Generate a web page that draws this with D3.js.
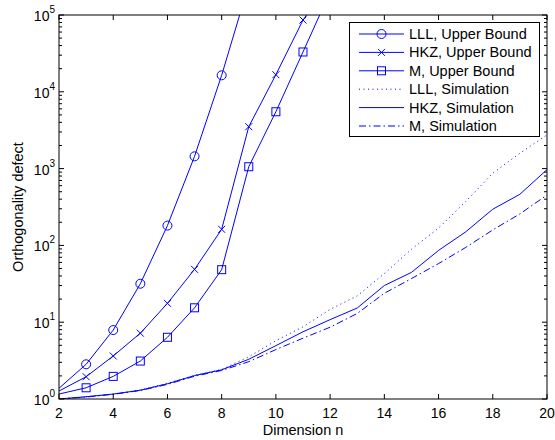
<!DOCTYPE html>
<html>
<head>
<meta charset="utf-8">
<script src="https://cdn.jsdelivr.net/npm/d3@7"></script>
<style>
body { margin: 0; background: #fff; }
svg { font-family: "Liberation Sans", Arial, sans-serif; }
</style>
</head>
<body>
<script>
// dimension values
var n_bound = [2, 3, 4, 5, 6, 7, 8, 9, 10, 11, 12];
var n_sim = [2, 3, 4, 5, 6, 7, 8, 9, 10, 11, 12, 13, 14, 15, 16, 17, 18, 19, 20];

// upper bounds (last values run off the top of the plot)
var lll_bound = [1.38, 2.83, 7.9, 31.7, 181, 1445, 16400, 250000];
var hkz_bound = [1.27, 1.95, 3.63, 7.2, 17.6, 48.8, 162, 3514, 16700, 86000, 270000];
var m_bound = [1.16, 1.40, 1.97, 3.12, 6.36, 15.4, 48.3, 1058, 5500, 33000, 200000];

// simulations
var lll_sim = [1.0, 1.07, 1.16, 1.31, 1.6, 2.03, 2.42, 3.55, 5.75, 8.7, 14.7, 22, 43, 89, 168, 372, 870, 1585, 2750];
var hkz_sim = [1.0, 1.07, 1.16, 1.3, 1.58, 2.02, 2.4, 3.29, 4.95, 7.5, 10.8, 15.3, 30, 44.5, 86, 150, 296, 463, 970];
var m_sim = [1.0, 1.06, 1.15, 1.29, 1.55, 1.98, 2.35, 3.06, 4.4, 6.2, 8.6, 13, 23.8, 37, 58, 94, 159, 257, 453];

var x_ticks = [2, 4, 6, 8, 10, 12, 14, 16, 18, 20];
var y_ticks = [0, 1, 2, 3, 4, 5];

var line_color = '#0000ff';
var font_size = "14.5px";

var plot_left = 59, plot_right = 547, plot_top = 15, plot_bottom = 399;

var svg = d3.select("body").append("svg")
	.attr("width", 555)
	.attr("height", 440);

var x = d3.scaleLinear().domain([2, 20]).range([plot_left, plot_right]);
var y = d3.scaleLog().domain([1, 1e5]).range([plot_bottom, plot_top]);

svg.append("clipPath").attr("id", "plot_clip")
	.append("rect")
	.attr("x", plot_left).attr("y", plot_top)
	.attr("width", plot_right - plot_left).attr("height", plot_bottom - plot_top);

var plot = svg.append("g").attr("clip-path", "url(#plot_clip)");

var line = d3.line()
	.x(function(d) { return x(d[0]); })
	.y(function(d) { return y(d[1]); });

function pairs(xs, ys) {
	return ys.map(function(v, i) { return [xs[i], v]; });
}

var series = [
	{name: 'LLL, Upper Bound', data: pairs(n_bound, lll_bound), marker: 'circle', dash: null},
	{name: 'HKZ, Upper Bound', data: pairs(n_bound, hkz_bound), marker: 'cross', dash: null},
	{name: 'M, Upper Bound', data: pairs(n_bound, m_bound), marker: 'square', dash: null},
	{name: 'LLL, Simulation', data: pairs(n_sim, lll_sim), marker: null, dash: '1,3.5'},
	{name: 'HKZ, Simulation', data: pairs(n_sim, hkz_sim), marker: null, dash: null},
	{name: 'M, Simulation', data: pairs(n_sim, m_sim), marker: null, dash: '7,3,1.5,3'}
];

function draw_marker(g, type, cx, cy) {
	if (type == 'circle') {
		g.append("circle").attr("cx", cx).attr("cy", cy).attr("r", 4.5)
			.attr("fill", "none").attr("stroke", line_color).attr("stroke-width", 1);
	} else if (type == 'square') {
		g.append("rect").attr("x", cx - 4).attr("y", cy - 4).attr("width", 8).attr("height", 8)
			.attr("fill", "none").attr("stroke", line_color).attr("stroke-width", 1);
	} else if (type == 'cross') {
		g.append("path").attr("d", "M" + (cx - 3.5) + "," + (cy - 3.5) + "L" + (cx + 3.5) + "," + (cy + 3.5)
			+ "M" + (cx - 3.5) + "," + (cy + 3.5) + "L" + (cx + 3.5) + "," + (cy - 3.5))
			.attr("fill", "none").attr("stroke", line_color).attr("stroke-width", 1);
	}
}

series.forEach(function(s) {
	plot.append("path")
		.datum(s.data)
		.attr("d", line)
		.attr("fill", "none")
		.attr("stroke", line_color)
		.attr("stroke-width", 1)
		.attr("stroke-dasharray", s.dash);
	if (s.marker) {
		s.data.forEach(function(d) {
			if (d[0] == 2) return;
			draw_marker(plot, s.marker, x(d[0]), y(d[1]));
		});
	}
});

// frame and ticks
svg.append("rect")
	.attr("x", plot_left).attr("y", plot_top)
	.attr("width", plot_right - plot_left).attr("height", plot_bottom - plot_top)
	.attr("fill", "none").attr("stroke", "#000").attr("stroke-width", 1);

var tick_g = svg.append("g").attr("stroke", "#000").attr("stroke-width", 1);

x_ticks.forEach(function(t) {
	tick_g.append("line").attr("x1", x(t)).attr("x2", x(t)).attr("y1", plot_bottom).attr("y2", plot_bottom - 5);
	tick_g.append("line").attr("x1", x(t)).attr("x2", x(t)).attr("y1", plot_top).attr("y2", plot_top + 5);
});

y.ticks().forEach(function(t) {
	var major = Math.abs(Math.log10(t) - Math.round(Math.log10(t))) < 1e-9;
	var len = major ? 5 : 3;
	tick_g.append("line").attr("x1", plot_left).attr("x2", plot_left + len).attr("y1", y(t)).attr("y2", y(t));
	tick_g.append("line").attr("x1", plot_right).attr("x2", plot_right - len).attr("y1", y(t)).attr("y2", y(t));
});

svg.selectAll(".x_label")
	.data(x_ticks)
	.enter()
	.append("text")
	.attr("class", "x_label")
	.attr("text-anchor", "middle")
	.attr("x", function(d) { return x(d); })
	.attr("y", 418)
	.attr("font-size", "14px")
	.text(function(d) { return d; });

var y_labels = svg.selectAll(".y_label")
	.data(y_ticks)
	.enter()
	.append("text")
	.attr("class", "y_label")
	.attr("text-anchor", "end")
	.attr("x", 55)
	.attr("y", function(d) { return y(Math.pow(10, d)) + 6; })
	.attr("font-size", "14px");
y_labels.append("tspan").text("10");
y_labels.append("tspan").attr("dy", -8).attr("font-size", "10px").text(function(d) { return d; });

svg.append("text")
	.attr("text-anchor", "middle")
	.attr("x", (plot_left + plot_right) / 2)
	.attr("y", 435)
	.attr("font-size", font_size)
	.text("Dimension n");

svg.append("text")
	.attr("text-anchor", "middle")
	.attr("transform", "translate(23," + ((plot_top + plot_bottom) / 2) + ") rotate(-90)")
	.attr("font-size", font_size)
	.text("Orthogonality defect");

// legend
var legend = svg.append("g");
legend.append("rect")
	.attr("x", 349.5).attr("y", 22.5)
	.attr("width", 190).attr("height", 114)
	.attr("fill", "#fff").attr("stroke", "#000").attr("stroke-width", 1);

series.forEach(function(s, i) {
	var ly = 34 + i * 18.4;
	legend.append("line")
		.attr("x1", 359).attr("x2", 404)
		.attr("y1", ly).attr("y2", ly)
		.attr("stroke", line_color).attr("stroke-width", 1)
		.attr("stroke-dasharray", s.dash);
	if (s.marker) draw_marker(legend, s.marker, 381.5, ly);
	legend.append("text")
		.attr("x", 409)
		.attr("y", ly + 5)
		.attr("font-size", font_size)
		.text(s.name);
});
</script>
</body>
</html>
